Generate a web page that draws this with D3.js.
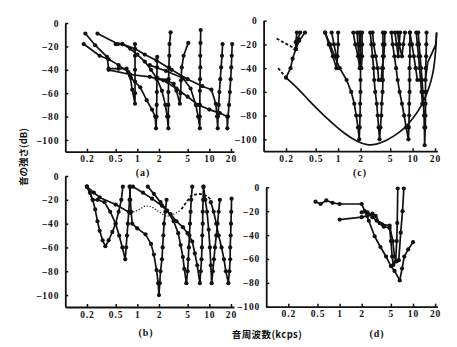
<!DOCTYPE html>
<html>
<head>
<meta charset="utf-8">
<script src="https://d3js.org/d3.v7.min.js"></script>
<style>
  body { margin: 0; background: #fff; }
</style>
</head>
<body>
<svg id="chart" width="457" height="347"></svg>
<script>
// ---------- shared axis values ----------
const freqTicks = [0.2, 0.5, 1, 2, 5, 10, 20];
const levelTicks = [0, -20, -40, -60, -80, -100];

// ---------- panel (a): threshold curves [kHz, dB] ----------
const a1 = [[0.19,-9],[0.26,-19],[0.38,-29],[0.40,-39],[0.55,-39],[0.71,-39],[0.79,-45],[0.85,-57],[0.93,-69],[0.93,-60],[0.93,-50],[0.93,-40],[0.93,-28],[0.93,-18]];
const a2 = [[0.18,-18],[0.3,-28],[0.4,-31],[0.55,-36],[0.75,-42],[0.82,-47],[1.1,-55],[1.35,-66],[1.6,-74],[1.77,-80],[1.82,-90],[1.85,-80],[1.86,-70],[1.87,-59],[1.87,-48],[1.88,-38],[1.89,-29]];
const a3 = [[0.5,-18],[0.62,-18],[0.8,-22],[1.0,-27],[1.27,-33],[1.55,-40],[1.85,-47],[2.2,-58],[2.45,-70],[2.6,-80],[2.7,-90],[2.7,-80],[2.7,-70],[2.7,-59],[2.72,-48],[2.75,-38],[2.78,-28],[2.8,-18],[2.9,-8]];
const a4 = [[1.9,-47],[2.5,-49],[3.2,-52],[3.5,-58],[3.9,-69],[4.0,-60],[4.05,-49],[4.15,-38],[4.4,-28],[5.1,-17]];
const a5 = [[1.49,-36],[2.5,-41],[4.3,-47],[5.5,-56],[6.5,-70],[7.0,-80],[7.4,-90],[7.4,-80],[7.4,-70],[7.4,-58],[7.45,-48],[7.5,-38],[7.5,-28],[7.55,-17],[7.6,-6]];
const a6 = [[0.28,-9],[0.54,-18],[0.62,-18],[0.93,-22],[1.27,-27],[1.85,-32],[3,-40],[5,-48],[8,-54],[10.7,-57],[12.3,-69],[12.8,-80],[13.1,-90],[13.2,-80],[13.5,-70],[13.8,-59],[14.2,-48],[14.6,-38],[15.0,-28],[15.3,-18]];
const a7 = [[0.4,-40],[0.8,-44],[1.49,-46],[2.3,-49],[3.5,-56],[5,-63],[7,-70],[10,-74],[14,-77],[17.7,-80],[17.8,-90],[18.2,-80],[18.8,-70],[19.3,-59],[19.8,-48],[20.2,-38],[20.5,-28],[20.8,-18]];

// ---------- panel (b) ----------
const b1 = [[0.2,-9],[0.22,-14],[0.24,-20],[0.26,-28],[0.28,-38],[0.3,-46],[0.33,-54],[0.36,-59],[0.4,-54],[0.45,-47],[0.5,-40],[0.55,-30],[0.6,-20],[0.63,-9]];
const b2 = [[0.2,-9],[0.24,-20],[0.28,-20],[0.35,-22],[0.42,-30],[0.5,-40],[0.56,-50],[0.62,-60],[0.68,-70],[0.7,-60],[0.72,-50],[0.74,-40],[0.76,-30],[0.78,-20],[0.8,-9]];
const b3 = [[0.2,-9],[0.25,-14],[0.3,-18],[0.5,-24],[0.8,-31]];
const b3Dotted = [[0.8,-31],[1.0,-29],[1.3,-25],[1.6,-26],[2.0,-30],[2.5,-34],[3.0,-33],[4.0,-29]];
const bArc = [[4.1,-28],[4.8,-22],[5.7,-16],[7.4,-15],[9.5,-17],[10.8,-21]];
const b4 = [[0.78,-9],[0.8,-20],[0.82,-30],[0.85,-40],[1.0,-44],[1.3,-49],[1.55,-57],[1.7,-66],[1.85,-79],[1.95,-90],[2.0,-100],[2.05,-90],[2.1,-80],[2.2,-70],[2.25,-60],[2.3,-50],[2.35,-40],[2.45,-30],[2.55,-20]];
const b5 = [[1.4,-9],[1.7,-15],[2.1,-22],[2.6,-29],[3.2,-38],[3.7,-48],[4.0,-58],[4.3,-68],[4.5,-78],[4.8,-90],[5.0,-80],[5.1,-70],[5.2,-60],[5.3,-50],[5.4,-40],[5.5,-30],[5.6,-20],[5.8,-9]];
const b6 = [[0.87,-9],[1.2,-14],[1.6,-19],[2.2,-25],[2.9,-32],[3.5,-38],[4.3,-43],[5.0,-48],[5.8,-55],[6.3,-65],[6.8,-75],[7.4,-90],[7.6,-80],[7.8,-70],[7.9,-60],[8.0,-50],[8.1,-40],[8.1,-30],[8.2,-20],[8.3,-9]];
const b7 = [[8.3,-9],[8.8,-20],[9.3,-30],[9.8,-45],[10.2,-60],[10.5,-75],[10.8,-90],[11.2,-80],[11.6,-70],[12,-60],[12.5,-50],[13,-40],[13.5,-30],[14,-20]];
const b8 = [[10.5,-22],[11.5,-30],[12.5,-40],[13.5,-50],[14.8,-60],[16,-70],[17,-80],[18.4,-90],[19,-80],[19.5,-70],[19.5,-60],[19.8,-50],[20,-40],[20.2,-30],[20.4,-19]];

// ---------- panel (c) ----------
const cEnvelope = [[0.2,-48],[0.3,-58],[0.4,-67],[0.6,-78],[0.82,-86],[1.2,-95],[1.8,-102],[2.5,-105],[3.2,-104.5],[4.5,-101],[6,-96],[7.7,-91],[10,-83],[13.2,-72],[16,-60],[19,-45],[20.5,-25],[21,-10]];
const cDashed1 = [[0.15,-15],[0.27,-24]];
const cDashed2 = [[0.157,-40],[0.2,-48]];
const c0 = [[0.2,-48],[0.23,-40],[0.245,-32],[0.27,-24],[0.27,-18],[0.28,-10]];
const c0b = [[0.27,-24],[0.3,-17],[0.36,-10]];
const c0c = [[0.27,-24],[0.29,-15],[0.31,-10]];
const c1 = [[0.67,-10],[0.75,-20],[0.85,-30],[0.95,-40],[0.98,-30],[1.0,-20],[1.0,-10]];
const c1b = [[0.82,-10],[0.88,-20],[0.95,-30]];
const c2 = [[0.67,-10],[0.78,-20],[0.9,-30],[1.05,-40],[1.3,-50],[1.5,-60],[1.65,-70],[1.75,-80],[1.85,-90],[1.92,-100],[1.95,-90],[1.97,-80],[1.98,-70],[2.0,-60],[2.0,-50],[2.0,-40],[2.0,-30],[2.0,-20],[2.0,-10]];
const c3 = [[1.6,-10],[1.7,-20],[1.85,-30],[1.95,-40],[2.0,-30],[1.95,-20],[1.92,-10]];
const c3b = [[1.8,-10],[1.85,-20],[1.9,-30],[2.05,-40],[2.1,-30],[2.1,-20],[2.1,-10]];
const c4 = [[2.7,-10],[2.8,-20],[2.9,-30],[3.0,-40],[3.05,-50],[3.15,-60],[3.3,-70],[3.4,-80],[3.5,-90],[3.6,-100],[3.7,-90],[3.8,-80],[3.85,-70],[3.95,-60],[4.0,-50],[4.0,-40],[4.0,-30],[4.0,-20],[4.0,-10]];
const c4b = [[2.9,-10],[3.0,-20],[3.2,-30],[3.4,-40],[3.5,-50],[3.8,-50],[3.9,-40],[4.1,-30],[4.2,-20],[4.25,-10]];
const c5 = [[5.2,-10],[5.4,-20],[5.7,-30],[6.0,-40],[6.3,-50],[6.7,-60],[7.2,-70],[7.7,-80],[8.2,-90],[8.8,-100],[8.9,-90],[9.0,-80],[9.0,-70],[9.1,-60],[9.1,-50],[9.1,-40],[9.2,-30],[9.2,-20],[9.2,-10]];
const c5b = [[6.3,-10],[6.6,-20],[7.2,-30],[7.5,-20],[7.9,-10]];
const c5c = [[5.8,-10],[6.1,-20],[6.4,-30],[6.6,-20],[6.8,-10]];
const c6 = [[11.9,-10],[12.2,-20],[12.6,-30],[13.0,-40],[13.4,-50],[13.7,-60],[14.0,-70],[14.2,-80],[14.4,-90],[14.5,-105],[14.8,-90],[14.9,-80],[14.9,-70],[14.9,-60],[14.9,-50],[15,-40],[15.2,-30],[15.3,-20],[15.4,-10]];
const c6b = [[14.8,-50],[16,-35],[18,-28],[20.5,-20],[21,-10]];
const c7 = [[11.2,-10],[11.6,-20],[12,-30],[12.4,-40],[12.8,-50],[13.2,-60],[13.5,-70]];
const c8 = [[9.2,-10],[9.8,-20],[10.4,-30],[11,-40],[11.6,-50]];

// ---------- panel (d) ----------
const dA = [[0.47,-12],[0.55,-14],[0.66,-11],[0.8,-13],[1.0,-14],[2.0,-14],[2.2,-20],[2.5,-28],[3.0,-41],[3.6,-50],[4.3,-58],[5.0,-66],[5.6,-70],[6.6,-78],[7.1,-68],[7.6,-58],[8.6,-52],[10,-46]];
const dB = [[1.0,-27],[2.0,-25],[2.4,-24],[2.8,-22],[3.1,-24],[3.5,-30],[4.0,-33],[4.8,-34],[5.0,-45],[5.2,-58],[5.4,-65],[5.8,-62],[6.0,-45],[6.1,-30],[6.2,-1]];
const dC = [[2.0,-21],[2.4,-21],[2.8,-25],[3.2,-28],[3.8,-31],[4.8,-32],[5.3,-45],[5.6,-58],[6.0,-62],[6.4,-61],[6.8,-38],[7.2,-20],[7.5,-1]];

// ---------- panel layout ----------
const panels = [
  { name: "(a)", x0: 65.3, perDec: 72,   yTop: 23,    yBot: 151.7, yMin: -110, fEnd: 22,
    label: [143, 176], solid: [a1,a2,a3,a4,a5,a6,a7] },
  { name: "(b)", x0: 65.3, perDec: 72,   yTop: 176,   yBot: 307,   yMin: -110, fEnd: 22,
    label: [146, 336], solid: [b1,b2,b3,b4,b5,b6,b7,b8], dotted: [b3Dotted], dashed: [bArc] },
  { name: "(c)", x0: 263.6, perDec: 74.5, yTop: 20.7, yBot: 151.2, yMin: -110, fEnd: 21.5,
    label: [360, 176], solid: [c0,c0b,c0c,c1,c1b,c2,c3,c3b,c4,c4b,c5,c5b,c5c,c6,c7,c8],
    plain: [c6b], smooth: [cEnvelope], dashed: [cDashed1, cDashed2] },
  { name: "(d)", x0: 266.2, perDec: 73.4, yTop: 187.3, yBot: 306.7, yMin: -100, fEnd: 21.5,
    label: [377, 337], solid: [dA, dB, dC] }
];

const svg = d3.select("#chart");
const ink = "#111";
const serif = "'Liberation Serif', 'DejaVu Serif', serif";
const cjk = "'Noto Sans CJK JP', sans-serif";

panels.forEach(p => {
  const x = d3.scaleLog()
    .domain([0.1, p.fEnd])
    .range([p.x0, p.x0 + p.perDec * Math.log10(p.fEnd / 0.1)]);
  const y = d3.scaleLinear().domain([p.yMin, 0]).range([p.yBot, p.yTop]);
  const g = svg.append("g");

  // axes
  const xAxis = d3.axisBottom(x).tickValues(freqTicks)
    .tickFormat(d => String(d)).tickSizeInner(-3).tickSizeOuter(0).tickPadding(4);
  const gx = g.append("g").attr("transform", `translate(0,${p.yBot})`).call(xAxis);
  const yAxis = d3.axisLeft(y).tickValues(levelTicks)
    .tickFormat(d => d === 0 ? "0" : "–" + Math.abs(d)).tickSizeInner(-3).tickSizeOuter(0).tickPadding(6);
  const gy = g.append("g").attr("transform", `translate(${p.x0},0)`).call(yAxis);
  [gx, gy].forEach(ax => {
    ax.attr("font-family", serif).attr("font-size", 9.5).attr("font-weight", "bold");
    ax.select(".domain").attr("stroke", ink).attr("stroke-width", 1.8);
    ax.selectAll(".tick line").attr("stroke", ink).attr("stroke-width", 1.5);
    ax.selectAll(".tick text").attr("fill", ink).attr("letter-spacing", 0.9);
  });

  const line = d3.line().x(d => x(d[0])).y(d => y(d[1]));

  (p.smooth || []).forEach(c => {
    g.append("path").datum(c).attr("fill", "none").attr("stroke", ink)
      .attr("stroke-width", 1.7).attr("d", line.curve(d3.curveBasis));
  });
  line.curve(d3.curveLinear);

  (p.dashed || []).forEach(c => {
    g.append("path").datum(c).attr("fill", "none").attr("stroke", ink)
      .attr("stroke-width", 1.8).attr("stroke-dasharray", "3,2").attr("d", line);
  });
  (p.dotted || []).forEach(c => {
    g.append("path").datum(c).attr("fill", "none").attr("stroke", ink)
      .attr("stroke-width", 1.2).attr("stroke-dasharray", "1.2,1.8").attr("d", line);
  });
  (p.plain || []).forEach(c => {
    g.append("path").datum(c).attr("fill", "none").attr("stroke", ink)
      .attr("stroke-width", 1.7).attr("d", line);
  });
  p.solid.forEach(c => {
    g.append("path").datum(c).attr("fill", "none").attr("stroke", ink)
      .attr("stroke-width", 1.7).attr("stroke-linejoin", "round").attr("d", line);
    g.selectAll(null).data(c).enter().append("circle")
      .attr("cx", d => x(d[0])).attr("cy", d => y(d[1])).attr("r", 2.1).attr("fill", ink);
  });

  g.append("text").attr("x", p.label[0]).attr("y", p.label[1])
    .attr("text-anchor", "middle").attr("font-family", serif).attr("font-weight", "bold")
    .attr("font-size", 10).attr("letter-spacing", 0.9)
    .attr("fill", ink).text(p.name);
});

// axis titles
svg.append("text")
  .attr("transform", "translate(27,157) rotate(-90)")
  .attr("text-anchor", "middle")
  .attr("font-family", cjk).attr("font-weight", "bold")
  .attr("font-size", 9.5).attr("fill", ink)
  .text("音の強さ(dB)");
svg.append("text")
  .attr("x", 267).attr("y", 338)
  .attr("text-anchor", "middle")
  .attr("font-family", cjk).attr("font-weight", "bold")
  .attr("font-size", 9.5).attr("letter-spacing", 0.4).attr("fill", ink)
  .text("音周波数(kcps)");
</script>
</body>
</html>
